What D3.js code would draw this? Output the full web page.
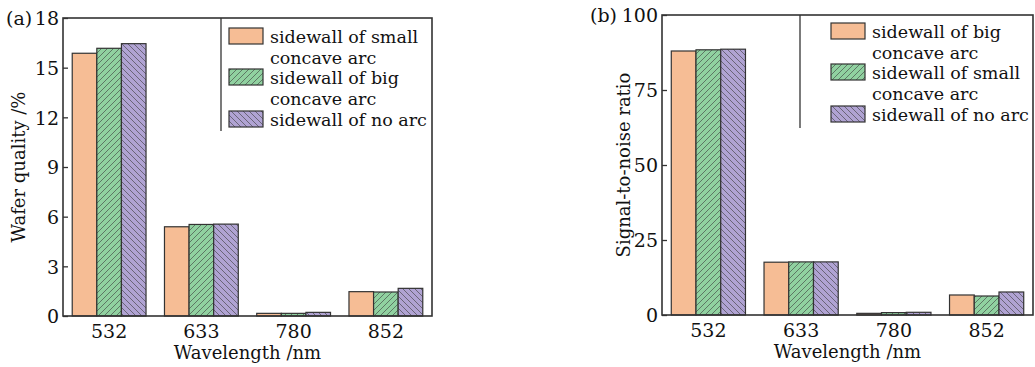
<!DOCTYPE html>
<html><head><meta charset="utf-8">
<script src="https://cdn.jsdelivr.net/npm/d3@7"></script>
<style>body{margin:0;background:#fff}svg{display:block}text{font-family:"DejaVu Serif",serif;fill:#111}</style>
</head><body><svg id="c" width="1035" height="367"></svg>
<script>
const categories = ["532","633","780","852"];
// Panel (a): wafer quality /%
const aSmall = [15.87, 5.39, 0.16, 1.47];
const aBig   = [16.17, 5.53, 0.16, 1.45];
const aNoArc = [16.45, 5.55, 0.22, 1.67];
const aTicks = [0,3,6,9,12,15,18];
const aLegend = ["sidewall of small\nconcave arc","sidewall of big\nconcave arc","sidewall of no arc"];
// Panel (b): signal-to-noise ratio
const bBig   = [88.0, 17.6, 0.55, 6.67];
const bSmall = [88.4, 17.7, 0.8, 6.33];
const bNoArc = [88.6, 17.7, 0.9, 7.67];
const bTicks = [0,25,50,75,100];
const bLegend = ["sidewall of big\nconcave arc","sidewall of small\nconcave arc","sidewall of no arc"];

const svg = d3.select("#c");
const defs = svg.append("defs");
const fills = ["#F6BD95","#90D1A0","#B0A3D3"];
function hatch(id, color, dir){
  const p = defs.append("pattern").attr("id",id).attr("patternUnits","userSpaceOnUse")
    .attr("width",6).attr("height",6);
  p.append("rect").attr("width",6).attr("height",6).attr("fill",color);
  if(dir>0){
    p.append("path").attr("d","M0,6 L6,0 M-1.5,1.5 L1.5,-1.5 M4.5,7.5 L7.5,4.5").attr("stroke","#3a3a3a").attr("stroke-width",0.6);
  } else {
    p.append("path").attr("d","M0,0 L6,6 M-1.5,4.5 L1.5,7.5 M4.5,-1.5 L7.5,1.5").attr("stroke","#3a3a3a").attr("stroke-width",0.6);
  }
}
hatch("hg", fills[1], 1);
hatch("hp", fills[2], -1);
const fillRefs = [fills[0], "url(#hg)", "url(#hp)"];
const FS = "17.5px";

function panel(o){
  const g = svg.append("g");
  const x = d3.scaleBand().domain(categories).range([o.x0,o.x1]).paddingInner(0.2).paddingOuter(0.1);
  const y = d3.scaleLinear().domain([0,o.ymax]).range([o.y1,o.y0]);
  const xs = d3.scaleBand().domain([0,1,2]).range([0,x.bandwidth()]);
  o.series.forEach((s,si)=>{
    g.selectAll(null).data(s).enter().append("rect")
      .attr("x",(d,i)=>x(categories[i])+xs(si))
      .attr("y",d=>y(d)).attr("width",xs.bandwidth()).attr("height",d=>y(0)-y(d))
      .attr("fill",fillRefs[si]).attr("stroke","#333").attr("stroke-width",1.2);
  });
  // y axis
  const ya = g.append("g").attr("transform",`translate(${o.x0},0)`)
    .call(d3.axisLeft(y).tickValues(o.ticks).tickSizeInner(-5).tickSizeOuter(0).tickPadding(4));
  ya.select(".domain").remove();
  ya.selectAll("line").attr("stroke","#333").attr("stroke-width",1.3);
  ya.selectAll("text").style("font-size","19px").attr("fill","#111").attr("dy","0.36em");
  const xa = g.append("g").attr("transform",`translate(0,${o.y1})`)
    .call(d3.axisBottom(x).tickSize(0).tickPadding(9));
  xa.select(".domain").remove();
  xa.selectAll("text").style("font-size","19px").attr("fill","#111");
  // frame
  g.append("rect").attr("x",o.x0).attr("y",o.y0).attr("width",o.x1-o.x0).attr("height",o.y1-o.y0)
    .attr("fill","none").attr("stroke","#333").attr("stroke-width",1.6);
  // labels
  g.append("text").attr("x",(o.x0+o.x1)/2).attr("y",o.y1+43).attr("text-anchor","middle")
    .style("font-size","18px").text("Wavelength /nm");
  g.append("text").attr("transform",`translate(${o.ylx},${(o.y0+o.y1)/2}) rotate(-90)`)
    .attr("text-anchor","middle").style("font-size","18px").text(o.ylabel);
  g.append("text").attr("x",o.tagx).attr("y",o.y0+7).style("font-size","19px").text(o.tag);
  // legend
  const L = o.legend;
  g.append("line").attr("x1",L.x).attr("x2",L.x).attr("y1",o.y0).attr("y2",o.y0+113)
    .attr("stroke","#333").attr("stroke-width",1.3);
  const rowsY = [L.y, L.y+41, L.y+83];
  o.labels.forEach((lab,i)=>{
    g.append("rect").attr("x",L.x+L.dx).attr("y",rowsY[i]).attr("width",34).attr("height",16)
      .attr("fill",fillRefs[i]).attr("stroke","#333").attr("stroke-width",1.2);
    const t = g.append("text").attr("x",L.x+L.dx+41).attr("y",rowsY[i]+15).style("font-size",FS);
    lab.split("\n").forEach((ln,j)=>{
      t.append("tspan").attr("x",L.x+L.dx+41).attr("dy",j?20.5:0).text(ln);
    });
  });
}

panel({x0:63,x1:432,y0:18,y1:316,ymax:18,ticks:aTicks,series:[aSmall,aBig,aNoArc],
  labels:aLegend,ylabel:"Wafer quality /%",ylx:25,tag:"(a)",tagx:6,legend:{x:221,y:28,dx:8}});
panel({x0:662,x1:1033,y0:15,y1:315,ymax:100,ticks:bTicks,series:[bBig,bSmall,bNoArc],
  labels:bLegend,ylabel:"Signal-to-noise ratio",ylx:630,tagx:590,tag:"(b)",legend:{x:800,y:23,dx:31}});
</script></body></html>
